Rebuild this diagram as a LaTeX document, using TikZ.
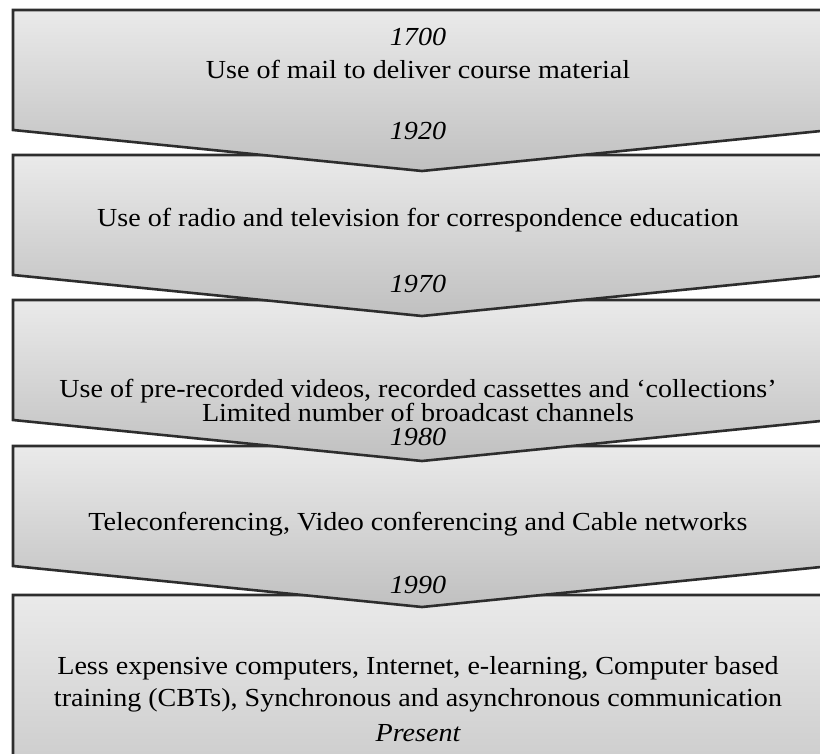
\documentclass[tikz,border=0pt]{standalone}
\usepackage{fontspec}
\setmainfont[FakeStretch=1.08]{Liberation Serif}
\usetikzlibrary{positioning}

\definecolor{boxtop}{RGB}{234,234,234}
\definecolor{boxbot}{RGB}{192,192,192}
\definecolor{boxline}{RGB}{45,45,45}

\begin{document}
\begin{tikzpicture}[x=1pt,y=-1pt,
    era/.style={draw=boxline, line width=2.6pt, line join=miter, top color=boxtop, bottom color=boxbot},
    yr/.style={anchor=base, inner sep=0pt, font=\fontsize{26}{30}\selectfont\itshape},
    txt/.style={anchor=base, inner sep=0pt, font=\fontsize{26}{30}\selectfont}]
\useasboundingbox (0,0) rectangle (820,754);
\clip (0,0) rectangle (820,754);
% chevrons, lowest first so every tip lies over the next box
\draw[era] (13,595) -- (831,595) -- (831,800) -- (422,841) -- (13,800) -- cycle;
\foreach \t in {446,300,155,10}
  \draw[era] (13,\t) -- (831,\t) -- (831,\t+120) -- (422,\t+161) -- (13,\t+120) -- cycle;

\node[yr] (y1700) at (418,46) {1700};
\node[txt] (mail) at (418,79) {Use of mail to deliver course material};
\node[yr] (y1920) at (418,140) {1920};
\node[txt] (radio) at (418,227) {Use of radio and television for correspondence education};
\node[yr] (y1970) at (418,293) {1970};
\node[txt, anchor=center, align=center, font=\fontsize{26}{24}\selectfont] (video) at (418,400)
  {Use of pre-recorded videos, recorded cassettes and ‘collections’\\Limited number of broadcast channels};
\node[yr] (y1980) at (418,445) {1980};
\node[txt] (tele) at (418,530) {Teleconferencing, Video conferencing and Cable networks};
\node[yr] (y1990) at (418,593) {1990};
\node[txt, anchor=center, align=center, font=\fontsize{26}{32}\selectfont] (comp) at (418,684)
  {Less expensive computers, Internet, e-learning, Computer based\\training (CBTs), Synchronous and asynchronous communication};
\node[yr] (now) at (418,741) {Present};
\end{tikzpicture}
\end{document}
